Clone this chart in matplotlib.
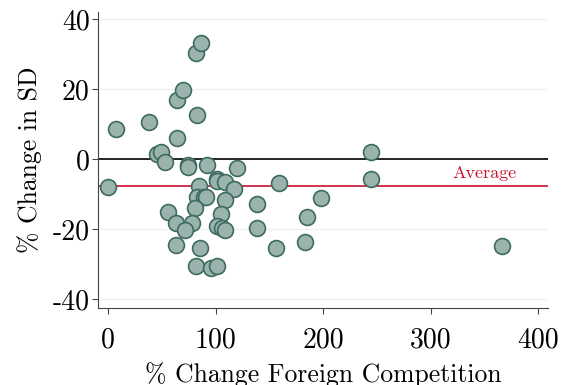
import matplotlib
matplotlib.use("Agg")
import matplotlib.pyplot as plt

plt.rcParams["font.family"] = "serif"
plt.rcParams["font.serif"] = ["cmr10"]
plt.rcParams["axes.formatter.use_mathtext"] = True

# % change in foreign competition vs % change in SD
comp_change = [0, 7.4, 38, 45.5, 49, 53, 64, 64, 70, 82, 86.6, 83,
               74, 74.3, 91.7, 119.6, 84.3, 101, 101.6, 108.7, 117, 159,
               83, 89, 91, 108.4, 81, 55.8, 63.2, 77.8, 71.3, 104.7,
               101, 106, 108.4, 138.8, 138.2, 156, 63.2, 85.5, 81.8, 95.4,
               101, 244, 244.7, 198, 184.5, 183, 366.6]
sd_change = [-8.1, 8.6, 10.6, 1.4, 2.1, -1, 6, 16.9, 19.7, 30.3, 33.1, 12.6,
             -1.7, -2.2, -1.8, -2.5, -7.6, -5.6, -6.3, -6.7, -8.5, -7,
             -10.8, -11, -11, -11.7, -14.1, -15.2, -18.2, -18.2, -20.4, -15.6,
             -19.3, -19.7, -20.3, -12.9, -19.7, -25.4, -24.6, -25.5, -30.7, -31.2,
             -30.6, 1.9, -5.6, -11.1, -16.6, -23.7, -24.9]
average = -7.6

xticks = [0, 100, 200, 300, 400]
yticks = [-40, -20, 0, 20, 40]

fig = plt.figure(figsize=(5.61, 3.85), dpi=100)
ax = fig.add_axes([0.1747, 0.2, 0.8023, 0.769])

for y in yticks:
    if y != 0:
        ax.axhline(y, color="#eef2f2", lw=1, zorder=0)
ax.axhline(0, color="black", lw=1.2, zorder=1)
ax.axhline(average, color="#c8102e", lw=1.2, zorder=1)
ax.text(350, average + 1.4, "Average", color="#c8102e", fontsize=13,
        ha="center", va="bottom")

ax.scatter(comp_change, sd_change, s=130, c="#9bb3ad", edgecolors="#3d6b5f",
           linewidths=1.2, zorder=3)

ax.set_xlim(-9.3, 409)
ax.set_ylim(-42.6, 42)
ax.set_xticks(xticks)
ax.set_xticklabels([str(v) for v in xticks])
ax.set_yticks(yticks)
ax.set_yticklabels([str(v) for v in yticks])
ax.tick_params(labelsize=20, direction="out", length=4, color="#444444")
ax.tick_params(axis="x", pad=10)
ax.tick_params(axis="y", pad=2)
for s in ["top", "right"]:
    ax.spines[s].set_visible(False)
for s in ["left", "bottom"]:
    ax.spines[s].set_color("#444444")

ax.set_xlabel("% Change Foreign Competition", fontsize=18.5, labelpad=6)
ax.set_ylabel("% Change in SD", fontsize=18.5, labelpad=8)

fig.savefig("out.png", dpi=100)
